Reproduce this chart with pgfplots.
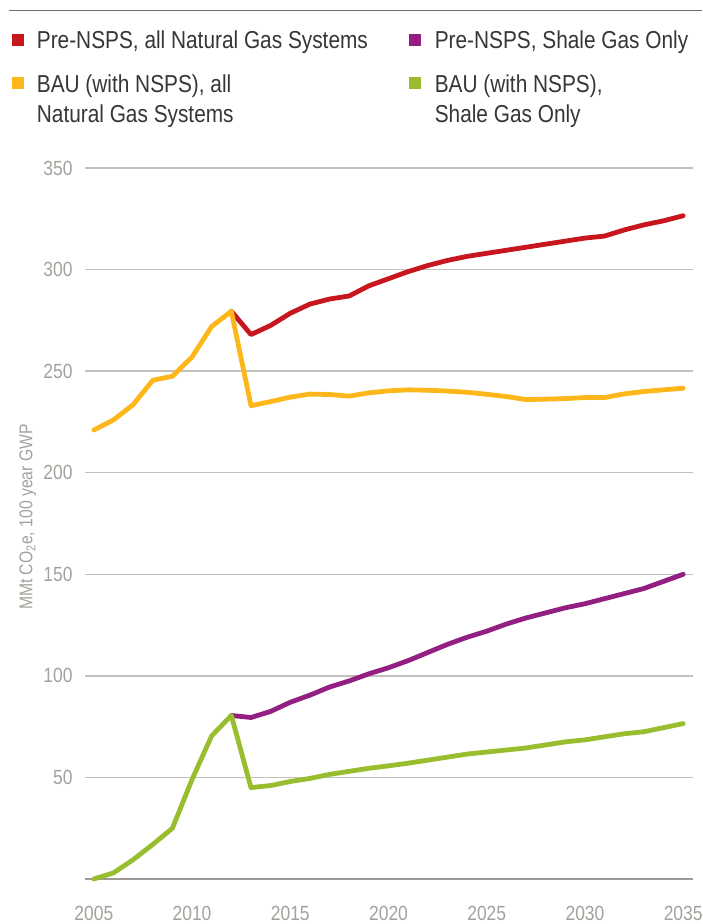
\documentclass[border=0pt]{standalone}
\usepackage{fontspec}
\setmainfont[FakeStretch=0.85]{Liberation Sans}
\usepackage{pgfplots}
\pgfplotsset{compat=1.18}
\definecolor{cRed}{HTML}{C8161E}
\definecolor{cYel}{HTML}{FDB71A}
\definecolor{cPur}{HTML}{921F81}
\definecolor{cGrn}{HTML}{98BE2F}
\definecolor{cGrid}{HTML}{C2C0B9}
\definecolor{cAxis}{HTML}{9C9A94}
\definecolor{cTick}{HTML}{A3A19B}
\definecolor{cText}{HTML}{363636}
\definecolor{cTop}{HTML}{6D6D6D}
\begin{document}
\begin{tikzpicture}[x=1pt,y=1pt]
\path[use as bounding box] (0,0) rectangle (702,924);
% top rule
\draw[cTop, line width=1.5pt] (9,913.3) -- (702,913.3);
% legend
\begin{scope}[every node/.style={inner sep=0pt, anchor=base west, text=cText, font=\fontsize{24.5}{29}\selectfont}]
\fill[cRed] (12.3,924-45.7) rectangle (24.3,924-33.7);
\node at (36.7,924-49) {Pre-NSPS, all Natural Gas Systems};
\fill[cYel] (12.3,924-89.5) rectangle (24.3,924-77.5);
\node at (36.7,924-92.7) {BAU (with NSPS), all};
\node at (36.7,924-122.7) {Natural Gas Systems};
\fill[cPur] (409,924-45.7) rectangle (421,924-33.7);
\node at (434.6,924-49) {Pre-NSPS, Shale Gas Only};
\fill[cGrn] (409,924-89.5) rectangle (421,924-77.5);
\node at (434.6,924-92.7) {BAU (with NSPS),};
\node at (434.6,924-122.7) {Shale Gas Only};
\end{scope}
\begin{axis}[
  at={(85pt,45pt)}, anchor=south west,
  width=608pt, height=711pt, scale only axis,
  xmin=2004.55, xmax=2035.5, ymin=0, ymax=350,
  clip=false,
  axis y line=left,
  axis x line=bottom,
  y axis line style={draw=none},
  x axis line style={draw=cAxis, line width=1.4pt, -},
  xtick={2005,2010,...,2035},
  ytick={0,50,...,350},
  yticklabels={,50,100,150,200,250,300,350},
  ymajorgrids,
  grid style={draw=cGrid, line width=1.3pt},
  major tick length=0pt,
  /pgf/number format/assume math mode=true,
  xticklabel={\pgfmathprintnumber[1000 sep={}]{\tick}},
  xticklabel style={anchor=base, inner sep=0pt, yshift=-41pt, text=cTick, font=\fontsize{20.5}{24}\selectfont},
  yticklabel style={anchor=east, inner sep=0pt, xshift=-12.3pt, text=cTick, font=\fontsize{20.5}{24}\selectfont},
  ylabel={MMt CO\textsubscript{2}e, 100 year GWP},
  ylabel style={at={(axis description cs:-0.094,0.509)}, anchor=center, rotate=0, text=cTick, font=\fontsize{18.5}{22}\selectfont},
  every axis plot/.append style={line width=4.8pt, line join=round, line cap=round},
]
\addplot[cRed] coordinates {
(2012,279.5)(2013,268)(2014,272.5)(2015,278.5)(2016,283)(2017,285.5)(2018,287)
(2019,292)(2020,295.5)(2021,299)(2022,302)(2023,304.5)(2024,306.5)(2025,308)
(2026,309.5)(2027,311)(2028,312.5)(2029,314)(2030,315.5)(2031,316.5)(2032,319.5)
(2033,322)(2034,324)(2035,326.5)};
\addplot[cYel] coordinates {
(2005,221)(2006,226)(2007,233.5)(2008,245.5)(2009,247.5)(2010,257)(2011,272)
(2012,279.5)(2013,233)(2014,235)(2015,237.2)(2016,238.7)(2017,238.5)(2018,237.7)
(2019,239.3)(2020,240.3)(2021,240.8)(2022,240.6)(2023,240.2)(2024,239.6)(2025,238.6)
(2026,237.5)(2027,236)(2028,236.2)(2029,236.5)(2030,237)(2031,237)(2032,238.8)
(2033,240)(2034,240.8)(2035,241.6)};
\addplot[cPur] coordinates {
(2012,80.5)(2013,79.5)(2014,82.5)(2015,87)(2016,90.5)(2017,94.5)(2018,97.5)
(2019,101)(2020,104)(2021,107.5)(2022,111.5)(2023,115.5)(2024,119)(2025,122)
(2026,125.5)(2027,128.5)(2028,131)(2029,133.5)(2030,135.5)(2031,138)(2032,140.5)
(2033,143)(2034,146.5)(2035,150)};
\addplot[cGrn] coordinates {
(2005,0)(2006,3)(2007,9.5)(2008,17)(2009,25)(2010,49)(2011,70.5)(2012,80.5)
(2013,45)(2014,46)(2015,48)(2016,49.5)(2017,51.5)(2018,53)(2019,54.5)(2020,55.7)
(2021,57)(2022,58.5)(2023,60)(2024,61.5)(2025,62.5)(2026,63.5)(2027,64.5)(2028,66)
(2029,67.5)(2030,68.5)(2031,70)(2032,71.5)(2033,72.5)(2034,74.5)(2035,76.5)};
\end{axis}
\end{tikzpicture}
\end{document}
